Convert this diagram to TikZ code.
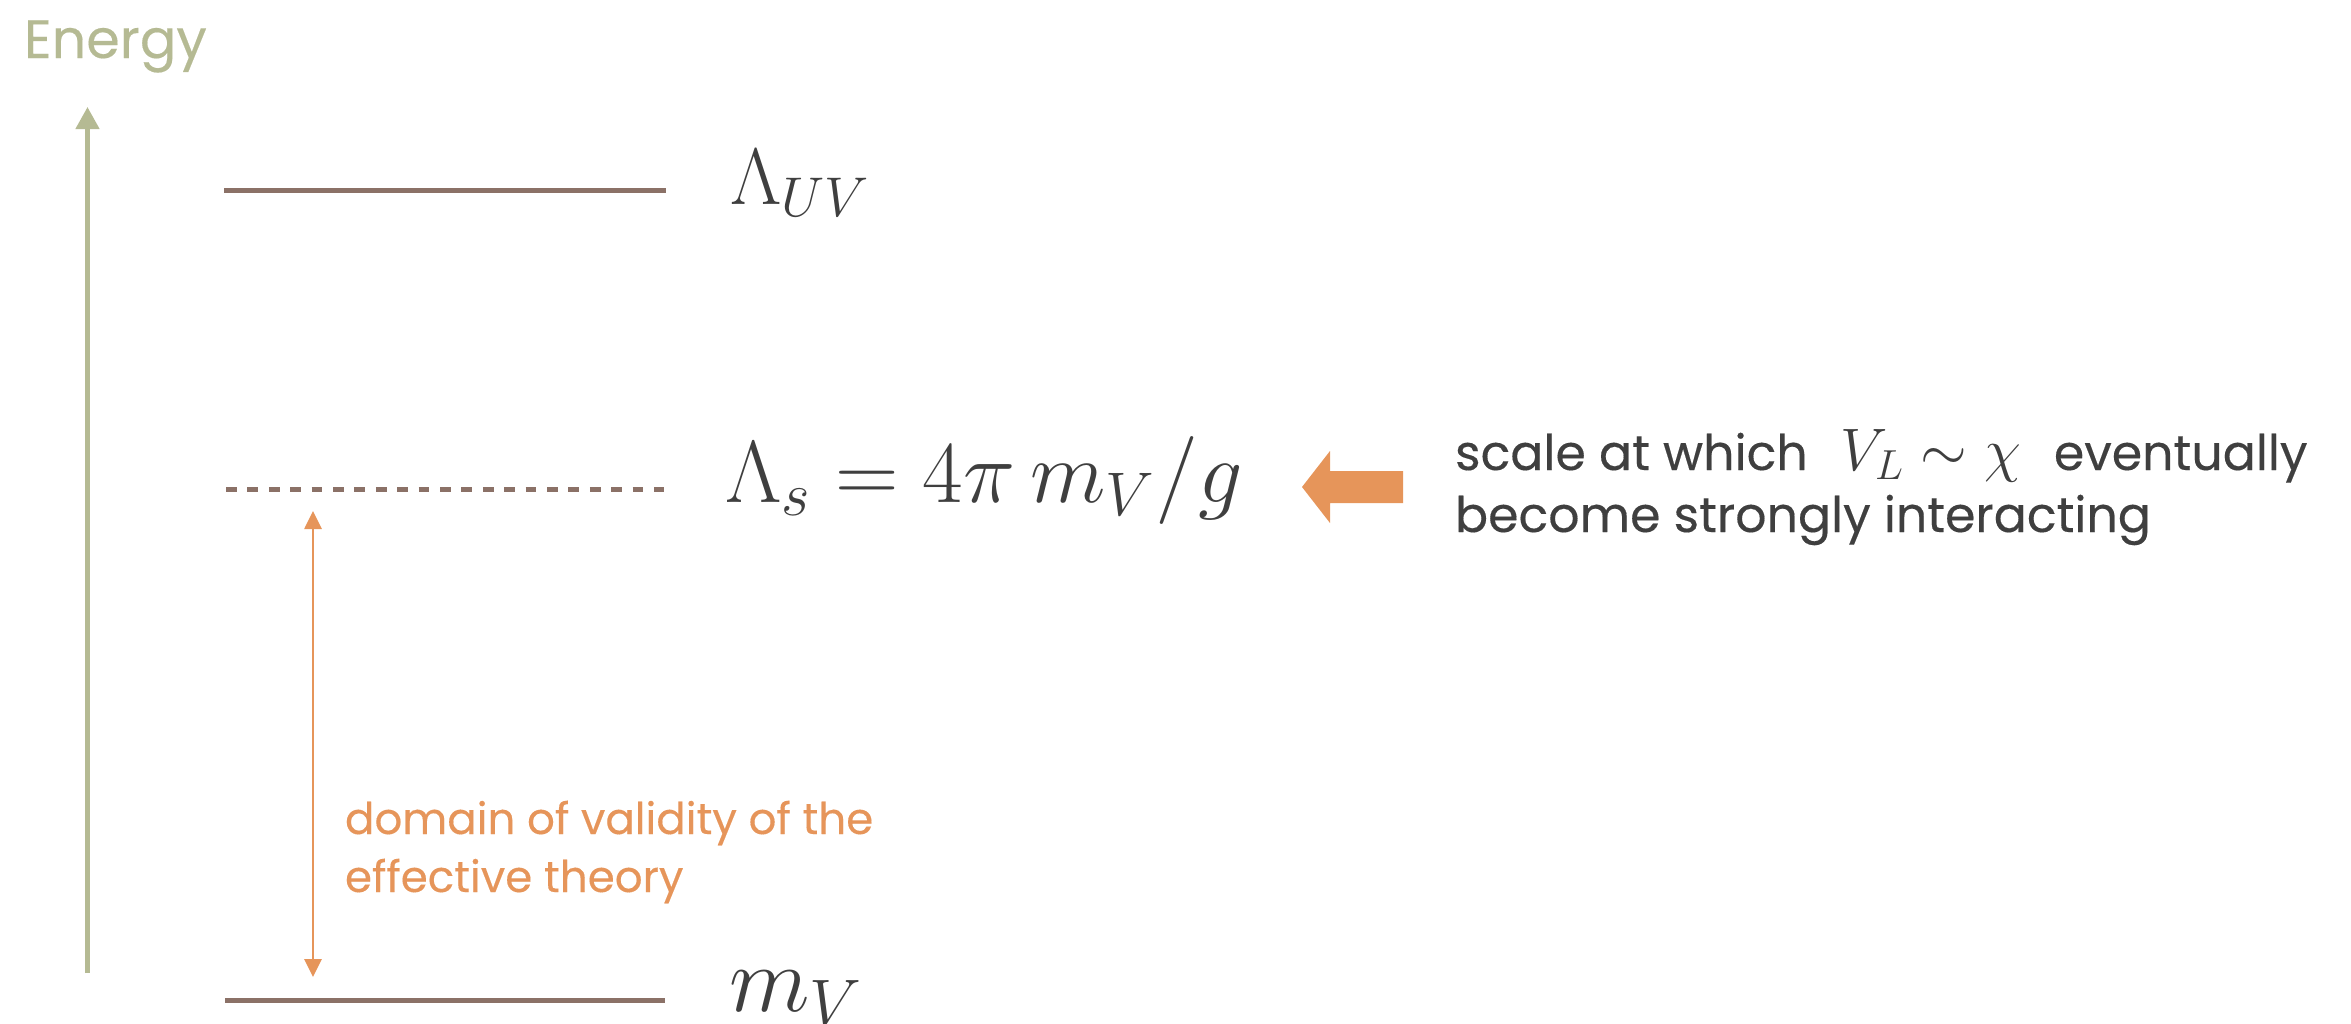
\RequirePackage{fix-cm}
\documentclass[tikz,border=0pt]{standalone}
\usepackage[no-math]{fontspec}
\setmainfont{Poppins}[FakeBold=0.3]
\usetikzlibrary{arrows.meta}
\definecolor{axiscol}{HTML}{B5BA93}
\definecolor{levelcol}{HTML}{8B7167}
\definecolor{accentcol}{HTML}{E6955A}
\definecolor{textcol}{HTML}{3F3F3F}
\begin{document}
\begin{tikzpicture}[x=0.5pt,y=-0.5pt,
  level/.style={draw=levelcol,line width=2.5pt},
  dashlevel/.style={level,dash pattern=on 5.35pt off 5.35pt},
  lbl/.style={anchor=base west,inner sep=0pt,outer sep=0pt},
  mathlbl/.style={lbl,text=textcol}]
\useasboundingbox (0,0) rectangle (2351,1023);

% title
\node[lbl,text=axiscol,font=\fontsize{27}{32}\selectfont] (title) at (24,58) {Energy};

% energy axis
\coordinate (axbot) at (87.5,973);
\coordinate (axtop) at (87.5,107);
\draw[axiscol,line width=2.25pt,-{Triangle[width=11.5pt,length=11pt]}] (axbot) -- (axtop);

% levels
\draw[level] (224,190) -- (666,190);
\draw[dashlevel] (226,489) -- (664,489);
\draw[level] (225,1000) -- (665,1000);

% level labels
\node[mathlbl,font=\fontsize{40}{40}\selectfont] (uv) at (730,204) {$\Lambda_{UV}$};
\node[mathlbl,font=\fontsize{44}{44}\selectfont] (ls) at (725,502) {$\Lambda_s = 4\pi\, m_V/g$};
\node[mathlbl,font=\fontsize{47}{47}\selectfont] (mv) at (729,1011) {$m_V$};

% domain of validity
\coordinate (dtop) at (313,511);
\coordinate (dbot) at (313,977);
\draw[accentcol,line width=1.35pt,{Triangle[width=8.5pt,length=9pt]}-{Triangle[width=8.5pt,length=9pt]}] (dtop) -- (dbot);
\node[lbl,text=accentcol,font=\fontsize{21.8}{29}\selectfont,align=left] (dom) at (345,892) {domain of validity of the\\effective theory};

% block arrow
\fill[accentcol] (1302,487) -- (1330,451) -- (1330,471) -- (1403,471) -- (1403,503) -- (1330,503) -- (1330,523) -- cycle;

% explanation
\node[lbl,text=textcol,font=\fontsize{24.5}{31}\selectfont,align=left] (expl) at (1455,532) {scale at which\hspace{10pt} {\fontsize{30}{30}\selectfont$V_L \sim \chi$}\hspace{10pt} eventually\\become strongly interacting};
\end{tikzpicture}
\end{document}
